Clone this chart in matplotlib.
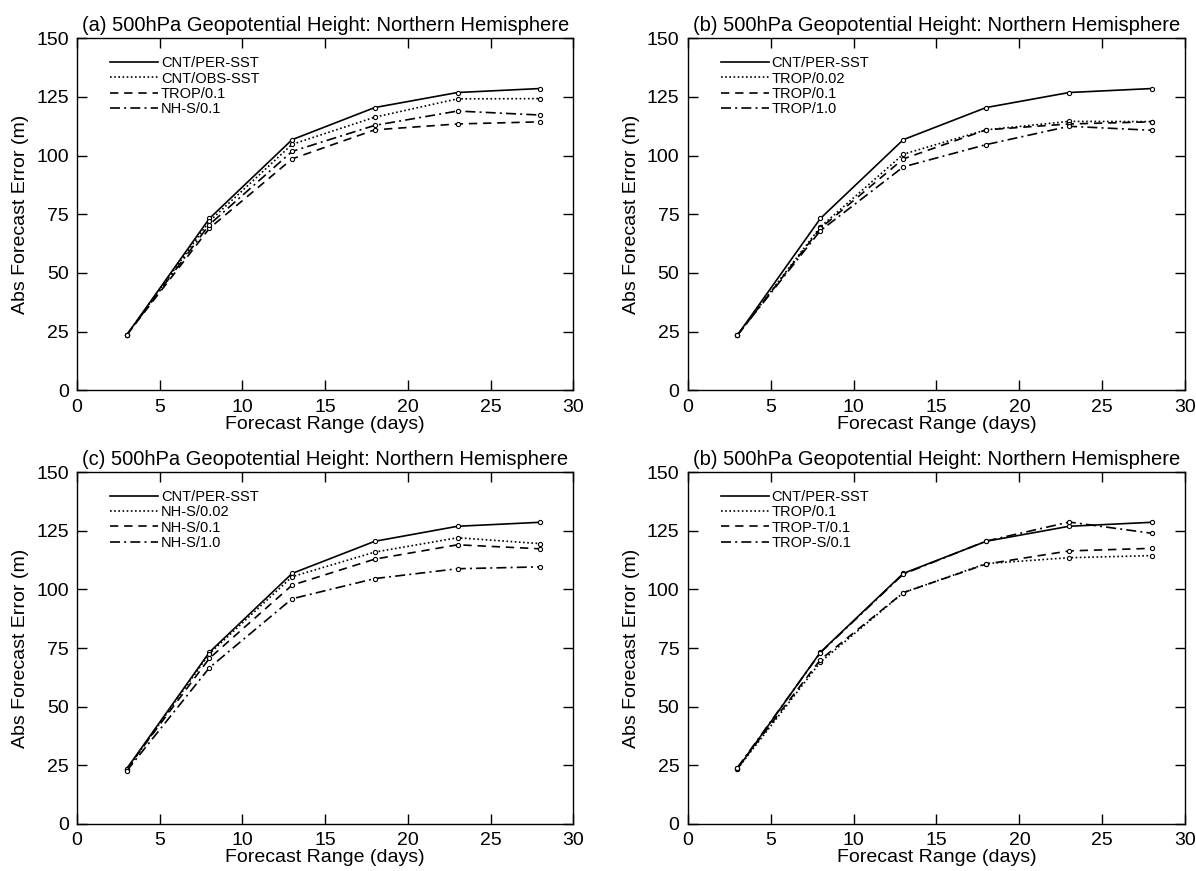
import matplotlib
matplotlib.use("Agg")
import matplotlib.pyplot as plt

plt.rcParams['font.family'] = ['Liberation Sans', 'DejaVu Sans']

days = [3, 8, 13, 18, 23, 28]

cnt_per = [23.5, 73.2, 106.8, 120.5, 126.9, 128.6]
cnt_obs = [23.5, 72.0, 104.8, 116.4, 124.2, 124.3]
trop_002 = [23.5, 69.6, 100.6, 111.0, 114.6, 114.5]
trop_01 = [23.5, 69.0, 98.6, 111.0, 113.5, 114.4]
trop_10 = [23.5, 68.0, 95.2, 104.7, 112.5, 110.8]
nhs_002 = [23.0, 72.6, 105.4, 115.9, 122.0, 119.5]
nhs_01 = [23.5, 70.6, 101.8, 112.9, 119.0, 117.3]
nhs_10 = [22.6, 66.6, 96.0, 104.6, 108.8, 109.6]
trop_t01 = [24.0, 70.0, 98.6, 110.8, 116.4, 117.5]
trop_s01 = [24.0, 73.0, 106.5, 120.6, 128.7, 123.9]

panels = [
    ("(a) 500hPa Geopotential Height: Northern Hemisphere",
     [("CNT/PER-SST", cnt_per), ("CNT/OBS-SST", cnt_obs),
      ("TROP/0.1", trop_01), ("NH-S/0.1", nhs_01)]),
    ("(b) 500hPa Geopotential Height: Northern Hemisphere",
     [("CNT/PER-SST", cnt_per), ("TROP/0.02", trop_002),
      ("TROP/0.1", trop_01), ("TROP/1.0", trop_10)]),
    ("(c) 500hPa Geopotential Height: Northern Hemisphere",
     [("CNT/PER-SST", cnt_per), ("NH-S/0.02", nhs_002),
      ("NH-S/0.1", nhs_01), ("NH-S/1.0", nhs_10)]),
    ("(b) 500hPa Geopotential Height: Northern Hemisphere",
     [("CNT/PER-SST", cnt_per), ("TROP/0.1", trop_01),
      ("TROP-T/0.1", trop_t01), ("TROP-S/0.1", trop_s01)]),
]

styles = ['-', (0, (1, 1.5)), (0, (5, 3.5)), (0, (6, 2.5, 1.2, 2.5))]

# axes boxes in figure fractions: left, bottom, width, height
boxes = [
    (0.0644, 0.552, 0.415, 0.404),
    (0.575, 0.552, 0.416, 0.404),
    (0.0644, 0.054, 0.415, 0.404),
    (0.575, 0.054, 0.416, 0.404),
]

fig = plt.figure(figsize=(11.96, 8.71), dpi=100)

for (title, series), box in zip(panels, boxes):
    ax = fig.add_axes(box)
    for (label, vals), ls in zip(series, styles):
        ax.plot(days, vals, color='black', linestyle=ls, linewidth=1.2,
                label=label)
        ax.plot(days, vals, linestyle='none', marker='o', markersize=3,
                markerfacecolor='white', markeredgecolor='black',
                markeredgewidth=0.8)
    ax.set_xlim(0, 30)
    ax.set_ylim(0, 150)
    ax.set_xticks(range(0, 31, 5))
    ax.set_yticks(range(0, 151, 25))
    ax.tick_params(direction='in', top=True, right=True, length=7,
                   width=1, labelsize=14, pad=6)
    for sp in ax.spines.values():
        sp.set_linewidth(1)
    ax.set_title(title, fontsize=14.5, pad=5)
    ax.set_xlabel("Forecast Range (days)", fontsize=14, labelpad=0)
    ax.set_ylabel("Abs Forecast Error (m)", fontsize=14, labelpad=5)
    ax.legend(loc='upper left', frameon=False, fontsize=10.5,
              handlelength=3.3, handletextpad=0.2, labelspacing=0.08,
              borderaxespad=0.6, bbox_to_anchor=(0.037, 0.99))

fig.savefig("out.png", dpi=100)
